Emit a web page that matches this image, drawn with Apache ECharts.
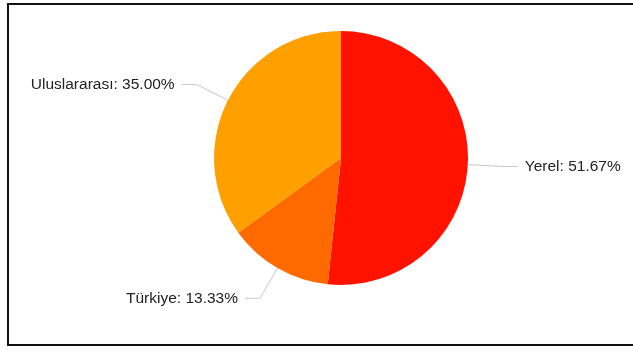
<!DOCTYPE html>
<html>
<head>
<meta charset="utf-8">
<script src="https://cdn.jsdelivr.net/npm/echarts@6/dist/echarts.min.js"></script>
<style>
  html, body { margin: 0; padding: 0; background: #fff; }
  #frame {
    position: absolute; left: 7px; top: 3px; width: 640px; height: 343px;
    box-sizing: border-box; border: 2px solid #111; pointer-events: none;
  }
  #chart { position: absolute; left: 0; top: 0; width: 633px; height: 351px; }
</style>
</head>
<body>
<div id="chart"></div>
<div id="frame"></div>
<script>
// dilim adlari ve degerleri
var categories = ["Yerel", "Türkiye", "Uluslararası"];
var values = [31, 8, 21];
var colors = ["#ff1300", "#ff6a00", "#ffa000"];

var chart = echarts.init(document.getElementById("chart"));

var pieData = [];
for (var i = 0; i < categories.length; i++) {
  pieData.push({ name: categories[i], value: values[i], itemStyle: { color: colors[i] } });
}

chart.setOption({
  animation: false,
  series: [
    {
      type: "pie",
      center: [341, 158],
      radius: 127,
      startAngle: 90,
      clockwise: true,
      data: pieData,
      label: {
        show: true,
        color: "#222",
        fontFamily: "Liberation Sans, Arial, sans-serif",
        fontSize: 15.5,
        distanceToLabelLine: 7,
        formatter: function (p) {
          return p.name + ": " + p.percent.toFixed(2) + "%";
        }
      },
      labelLine: {
        show: true,
        length: 35,
        length2: 15,
        lineStyle: { color: "#c8c8c8", width: 1 }
      },
      itemStyle: { borderWidth: 0 }
    }
  ]
});
</script>
</body>
</html>
